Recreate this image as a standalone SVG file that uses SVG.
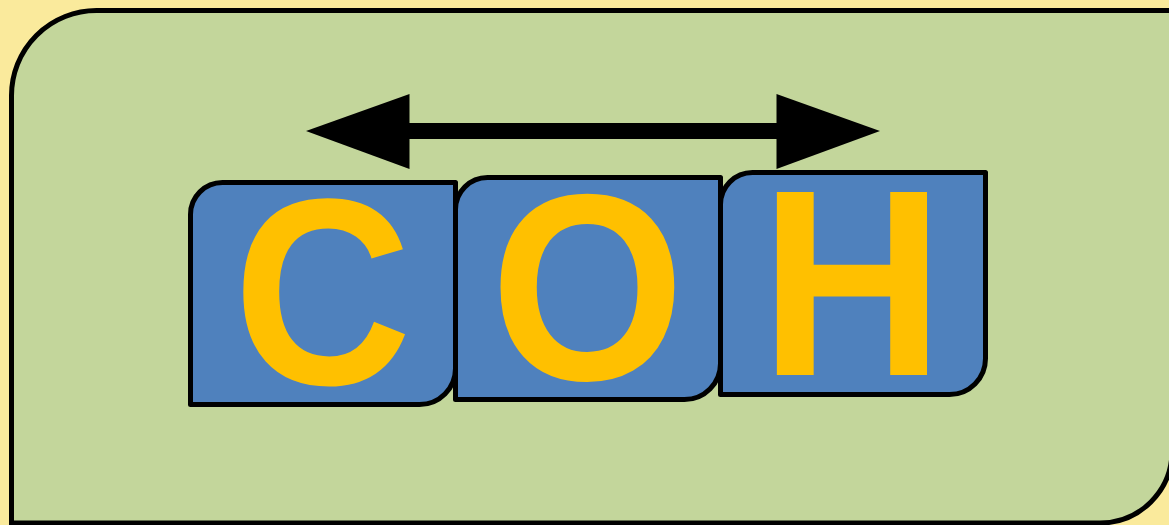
<svg xmlns="http://www.w3.org/2000/svg" width="1169" height="525" viewBox="0 0 1169 525">
  <style>
    .box { fill: #4F81BD; stroke: #000; stroke-width: 5; stroke-linejoin: round; }
    .letter { font-family: "Liberation Sans", Arial, sans-serif; font-weight: bold; font-size: 266px; fill: #FFC000; text-anchor: middle; }
  </style>
  <rect x="0" y="0" width="1169" height="525" fill="#FAEA9C"/>
  <g id="panel">
    <path d="M 11.5 95.5 A 85 85 0 0 1 96.5 10.5 H 1172 V 451 A 72 72 0 0 1 1100 523 H 11.5 Z" fill="#C3D69B" stroke="#000" stroke-width="5"/>
  </g>
  <g id="connectors">
    <line x1="405" y1="131" x2="781" y2="131" stroke="#000" stroke-width="16"/>
    <polygon points="306,131 409.5,94 409.5,169" fill="#000"/>
    <polygon points="880,131 776.5,94 776.5,169" fill="#000"/>
  </g>
  <g id="node-C">
    <path class="box" d="M 190.5 214.5 A 32 32 0 0 1 222.5 182.5 H 455.5 V 368.5 A 36 36 0 0 1 419.5 404.5 H 190.5 Z"/>
    <text class="letter" transform="translate(322.5 384) scale(0.93 1)">C</text>
  </g>
  <g id="node-O">
    <path class="box" d="M 455.5 209.5 A 32 32 0 0 1 487.5 177.5 H 720.5 V 363.5 A 36 36 0 0 1 684.5 399.5 H 455.5 Z"/>
    <text class="letter" transform="translate(587.5 379.5) scale(0.94 1)">O</text>
  </g>
  <g id="node-H">
    <path class="box" d="M 720.5 204.5 A 32 32 0 0 1 752.5 172.5 H 985.5 V 358.5 A 36 36 0 0 1 949.5 394.5 H 720.5 Z"/>
    <text class="letter" transform="translate(852 375) scale(0.96 1)">H</text>
  </g>
</svg>
